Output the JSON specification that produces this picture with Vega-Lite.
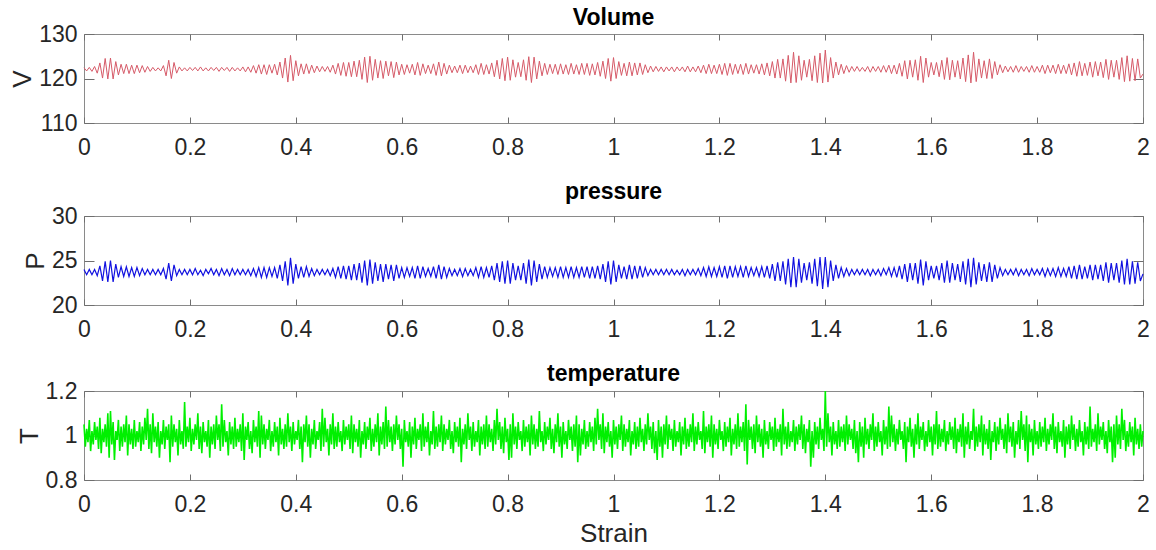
{
"$schema":"https://vega.github.io/schema/vega-lite/v6.json",
"padding":{"left":9,"top":6,"right":5,"bottom":0},
"config":{
"font":"Liberation Sans",
"view":{"stroke":"#8a8a8a","strokeWidth":1},
"axis":{"domain":false,"grid":false,"tickColor":"#6e6e6e","labelFont":"Liberation Sans","labelFontSize":23,"labelColor":"#262626","titleFont":"Liberation Sans","titleFontSize":26,"titleFontWeight":"normal","titleColor":"#262626","format":".6~g"},
"axisX":{"tickSize":-6,"labelPadding":19,"tickCount":10,"labelFlush":false,"titlePadding":4},
"axisY":{"tickSize":-10,"labelPadding":17,"tickCount":2,"titlePadding":3},
"title":{"font":"Liberation Sans","fontSize":23,"fontWeight":"bold","color":"#000000","anchor":"middle","baseline":"alphabetic","offset":-1},
"concat":{"spacing":20}
},
"datasets":{
"vp":[
{"s":0,"v":122.4,"p":24.0},{"s":0.005,"v":121.7,"p":23.4},{"s":0.01,"v":122.5,"p":24.0},{"s":0.015,"v":121.6,"p":23.4},{"s":0.02,"v":122.7,"p":24.0},{"s":0.025,"v":121.2,"p":23.3},{"s":0.03,"v":123.5,"p":24.4},{"s":0.035,"v":120.1,"p":22.7},{"s":0.04,"v":124.5,"p":24.9},{"s":0.045,"v":119.9,"p":22.6},
{"s":0.05,"v":124.6,"p":25.0},{"s":0.055,"v":119.9,"p":22.6},{"s":0.06,"v":123.8,"p":24.6},{"s":0.065,"v":120.8,"p":23.1},{"s":0.07,"v":123.2,"p":24.3},{"s":0.075,"v":121.1,"p":23.2},{"s":0.08,"v":123.2,"p":24.3},{"s":0.085,"v":121.1,"p":23.2},{"s":0.09,"v":123.0,"p":24.2},{"s":0.095,"v":121.1,"p":23.2},
{"s":0.1,"v":123.0,"p":24.2},{"s":0.105,"v":121.3,"p":23.3},{"s":0.11,"v":122.9,"p":24.1},{"s":0.115,"v":121.4,"p":23.4},{"s":0.12,"v":122.7,"p":24.0},{"s":0.125,"v":121.6,"p":23.4},{"s":0.13,"v":122.5,"p":24.0},{"s":0.135,"v":121.7,"p":23.4},{"s":0.14,"v":122.4,"p":24.0},{"s":0.145,"v":121.7,"p":23.4},
{"s":0.15,"v":122.9,"p":24.1},{"s":0.155,"v":120.6,"p":22.9},{"s":0.16,"v":124.1,"p":24.7},{"s":0.165,"v":120.0,"p":22.7},{"s":0.17,"v":123.6,"p":24.5},{"s":0.175,"v":121.2,"p":23.3},{"s":0.18,"v":122.6,"p":24.0},{"s":0.185,"v":121.7,"p":23.4},{"s":0.19,"v":122.4,"p":24.0},{"s":0.195,"v":121.7,"p":23.4},
{"s":0.2,"v":122.5,"p":24.0},{"s":0.205,"v":121.8,"p":23.4},{"s":0.21,"v":122.5,"p":24.1},{"s":0.215,"v":121.7,"p":23.4},{"s":0.22,"v":122.6,"p":23.9},{"s":0.225,"v":121.7,"p":23.3},{"s":0.23,"v":122.4,"p":24.0},{"s":0.235,"v":121.7,"p":23.5},{"s":0.24,"v":122.5,"p":24.1},{"s":0.245,"v":121.8,"p":23.4},
{"s":0.25,"v":122.5,"p":24.0},{"s":0.255,"v":121.6,"p":23.3},{"s":0.26,"v":122.5,"p":24.1},{"s":0.265,"v":121.8,"p":23.4},{"s":0.27,"v":122.5,"p":24.0},{"s":0.275,"v":121.6,"p":23.3},{"s":0.28,"v":122.5,"p":24.1},{"s":0.285,"v":121.7,"p":23.4},{"s":0.29,"v":122.4,"p":24.0},{"s":0.295,"v":121.7,"p":23.4},
{"s":0.3,"v":122.6,"p":24.0},{"s":0.305,"v":121.5,"p":23.4},{"s":0.31,"v":122.6,"p":24.0},{"s":0.315,"v":121.4,"p":23.3},{"s":0.32,"v":122.9,"p":24.1},{"s":0.325,"v":121.2,"p":23.2},{"s":0.33,"v":123.1,"p":24.2},{"s":0.335,"v":121.0,"p":23.1},{"s":0.34,"v":123.1,"p":24.2},{"s":0.345,"v":120.9,"p":23.1},
{"s":0.35,"v":123.1,"p":24.2},{"s":0.355,"v":121.2,"p":23.2},{"s":0.36,"v":123.2,"p":24.2},{"s":0.365,"v":120.8,"p":23.0},{"s":0.37,"v":123.7,"p":24.5},{"s":0.375,"v":120.1,"p":22.7},{"s":0.38,"v":124.6,"p":24.9},{"s":0.385,"v":119.2,"p":22.2},{"s":0.39,"v":125.2,"p":25.3},{"s":0.395,"v":119.5,"p":22.4},
{"s":0.4,"v":124.0,"p":24.6},{"s":0.405,"v":120.6,"p":23.0},{"s":0.41,"v":123.3,"p":24.3},{"s":0.415,"v":121.0,"p":23.1},{"s":0.42,"v":123.3,"p":24.3},{"s":0.425,"v":121.1,"p":23.2},{"s":0.43,"v":123.0,"p":24.1},{"s":0.435,"v":121.3,"p":23.3},{"s":0.44,"v":122.8,"p":24.0},{"s":0.445,"v":121.5,"p":23.4},
{"s":0.45,"v":122.7,"p":24.0},{"s":0.455,"v":121.6,"p":23.4},{"s":0.46,"v":122.7,"p":24.0},{"s":0.465,"v":121.4,"p":23.3},{"s":0.47,"v":123.0,"p":24.1},{"s":0.475,"v":121.0,"p":23.1},{"s":0.48,"v":123.4,"p":24.3},{"s":0.485,"v":120.7,"p":23.0},{"s":0.49,"v":123.6,"p":24.4},{"s":0.495,"v":120.5,"p":22.9},
{"s":0.5,"v":123.6,"p":24.4},{"s":0.505,"v":120.4,"p":22.8},{"s":0.51,"v":123.9,"p":24.6},{"s":0.515,"v":120.4,"p":22.8},{"s":0.52,"v":124.1,"p":24.7},{"s":0.525,"v":119.8,"p":22.5},{"s":0.53,"v":124.8,"p":25.0},{"s":0.535,"v":119.1,"p":22.2},{"s":0.54,"v":125.0,"p":25.1},{"s":0.545,"v":119.6,"p":22.4},
{"s":0.55,"v":124.3,"p":24.8},{"s":0.555,"v":120.1,"p":22.7},{"s":0.56,"v":124.0,"p":24.6},{"s":0.565,"v":120.0,"p":22.6},{"s":0.57,"v":123.9,"p":24.6},{"s":0.575,"v":120.6,"p":22.9},{"s":0.58,"v":123.8,"p":24.5},{"s":0.585,"v":120.2,"p":22.7},{"s":0.59,"v":123.7,"p":24.5},{"s":0.595,"v":120.8,"p":23.0},
{"s":0.6,"v":123.2,"p":24.2},{"s":0.605,"v":120.9,"p":23.1},{"s":0.61,"v":123.1,"p":24.2},{"s":0.615,"v":121.2,"p":23.2},{"s":0.62,"v":123.2,"p":24.2},{"s":0.625,"v":120.8,"p":23.0},{"s":0.63,"v":123.6,"p":24.4},{"s":0.635,"v":120.7,"p":23.0},{"s":0.64,"v":123.3,"p":24.3},{"s":0.645,"v":121.1,"p":23.2},
{"s":0.65,"v":123.0,"p":24.1},{"s":0.655,"v":121.1,"p":23.2},{"s":0.66,"v":123.3,"p":24.3},{"s":0.665,"v":120.7,"p":23.0},{"s":0.67,"v":123.7,"p":24.5},{"s":0.675,"v":120.6,"p":22.9},{"s":0.68,"v":123.4,"p":24.3},{"s":0.685,"v":121.0,"p":23.1},{"s":0.69,"v":123.0,"p":24.1},{"s":0.695,"v":121.3,"p":23.3},
{"s":0.7,"v":122.8,"p":24.0},{"s":0.705,"v":121.3,"p":23.3},{"s":0.71,"v":123.0,"p":24.1},{"s":0.715,"v":121.1,"p":23.2},{"s":0.72,"v":123.0,"p":24.1},{"s":0.725,"v":121.3,"p":23.3},{"s":0.73,"v":122.8,"p":24.0},{"s":0.735,"v":121.3,"p":23.3},{"s":0.74,"v":123.1,"p":24.2},{"s":0.745,"v":120.9,"p":23.1},
{"s":0.75,"v":123.4,"p":24.3},{"s":0.755,"v":120.9,"p":23.1},{"s":0.76,"v":123.1,"p":24.2},{"s":0.765,"v":121.0,"p":23.1},{"s":0.77,"v":123.5,"p":24.4},{"s":0.775,"v":120.4,"p":22.8},{"s":0.78,"v":124.1,"p":24.7},{"s":0.785,"v":119.9,"p":22.6},{"s":0.79,"v":124.5,"p":24.9},{"s":0.795,"v":119.5,"p":22.4},
{"s":0.8,"v":124.8,"p":25.0},{"s":0.805,"v":119.6,"p":22.4},{"s":0.81,"v":124.2,"p":24.7},{"s":0.815,"v":120.3,"p":22.8},{"s":0.82,"v":123.6,"p":24.4},{"s":0.825,"v":120.4,"p":22.8},{"s":0.83,"v":124.2,"p":24.7},{"s":0.835,"v":119.6,"p":22.4},{"s":0.84,"v":124.9,"p":25.1},{"s":0.845,"v":119.1,"p":22.2},
{"s":0.85,"v":124.8,"p":25.0},{"s":0.855,"v":119.9,"p":22.6},{"s":0.86,"v":123.9,"p":24.6},{"s":0.865,"v":120.6,"p":22.9},{"s":0.87,"v":123.4,"p":24.3},{"s":0.875,"v":120.9,"p":23.1},{"s":0.88,"v":123.2,"p":24.2},{"s":0.885,"v":121.1,"p":23.2},{"s":0.89,"v":123.2,"p":24.2},{"s":0.895,"v":120.9,"p":23.1},
{"s":0.9,"v":123.3,"p":24.3},{"s":0.905,"v":121.0,"p":23.1},{"s":0.91,"v":123.1,"p":24.2},{"s":0.915,"v":120.9,"p":23.1},{"s":0.92,"v":123.4,"p":24.3},{"s":0.925,"v":121.0,"p":23.1},{"s":0.93,"v":123.1,"p":24.2},{"s":0.935,"v":120.9,"p":23.1},{"s":0.94,"v":123.4,"p":24.3},{"s":0.945,"v":120.9,"p":23.1},
{"s":0.95,"v":123.4,"p":24.3},{"s":0.955,"v":120.7,"p":23.0},{"s":0.96,"v":123.3,"p":24.3},{"s":0.965,"v":120.8,"p":23.0},{"s":0.97,"v":123.6,"p":24.4},{"s":0.975,"v":120.5,"p":22.9},{"s":0.98,"v":123.9,"p":24.6},{"s":0.985,"v":120.0,"p":22.6},{"s":0.99,"v":124.5,"p":24.9},{"s":0.995,"v":119.4,"p":22.3},
{"s":1,"v":124.7,"p":25.0},{"s":1.005,"v":120.0,"p":22.6},{"s":1.01,"v":123.8,"p":24.5},{"s":1.015,"v":120.7,"p":23.0},{"s":1.02,"v":123.4,"p":24.3},{"s":1.025,"v":120.6,"p":22.9},{"s":1.03,"v":123.7,"p":24.5},{"s":1.035,"v":120.6,"p":22.9},{"s":1.04,"v":123.5,"p":24.4},{"s":1.045,"v":120.8,"p":23.0},
{"s":1.05,"v":123.5,"p":24.4},{"s":1.055,"v":120.9,"p":23.1},{"s":1.06,"v":123.1,"p":24.2},{"s":1.065,"v":121.3,"p":23.3},{"s":1.07,"v":122.8,"p":24.0},{"s":1.075,"v":121.5,"p":23.4},{"s":1.08,"v":122.7,"p":24.0},{"s":1.085,"v":121.6,"p":23.4},{"s":1.09,"v":122.6,"p":24.0},{"s":1.095,"v":121.5,"p":23.4},
{"s":1.1,"v":122.6,"p":24.0},{"s":1.105,"v":121.7,"p":23.4},{"s":1.11,"v":122.6,"p":24.0},{"s":1.115,"v":121.5,"p":23.4},{"s":1.12,"v":122.6,"p":23.9},{"s":1.125,"v":121.7,"p":23.4},{"s":1.13,"v":122.6,"p":24.0},{"s":1.135,"v":121.5,"p":23.3},{"s":1.14,"v":122.8,"p":24.0},{"s":1.145,"v":121.5,"p":23.4},
{"s":1.15,"v":122.6,"p":24.0},{"s":1.155,"v":121.5,"p":23.4},{"s":1.16,"v":122.8,"p":24.1},{"s":1.165,"v":121.3,"p":23.3},{"s":1.17,"v":123.0,"p":24.2},{"s":1.175,"v":121.1,"p":23.2},{"s":1.18,"v":123.2,"p":24.3},{"s":1.185,"v":121.1,"p":23.2},{"s":1.19,"v":123.0,"p":24.2},{"s":1.195,"v":121.1,"p":23.2},
{"s":1.2,"v":123.2,"p":24.3},{"s":1.205,"v":120.9,"p":23.1},{"s":1.21,"v":123.4,"p":24.4},{"s":1.215,"v":120.7,"p":23.0},{"s":1.22,"v":123.4,"p":24.4},{"s":1.225,"v":120.9,"p":23.1},{"s":1.23,"v":123.2,"p":24.3},{"s":1.235,"v":121.1,"p":23.2},{"s":1.24,"v":123.2,"p":24.3},{"s":1.245,"v":120.9,"p":23.1},
{"s":1.25,"v":123.4,"p":24.4},{"s":1.255,"v":121.0,"p":23.2},{"s":1.26,"v":123.1,"p":24.2},{"s":1.265,"v":121.2,"p":23.3},{"s":1.27,"v":123.1,"p":24.2},{"s":1.275,"v":121.0,"p":23.2},{"s":1.28,"v":123.3,"p":24.3},{"s":1.285,"v":120.8,"p":23.1},{"s":1.29,"v":123.5,"p":24.4},{"s":1.295,"v":120.6,"p":23.0},
{"s":1.3,"v":123.8,"p":24.6},{"s":1.305,"v":120.1,"p":22.7},{"s":1.31,"v":124.3,"p":24.8},{"s":1.315,"v":120.1,"p":22.7},{"s":1.32,"v":124.4,"p":24.9},{"s":1.325,"v":119.4,"p":22.3},{"s":1.33,"v":125.2,"p":25.2},{"s":1.335,"v":119.0,"p":22.0},{"s":1.34,"v":125.9,"p":25.4},{"s":1.345,"v":119.1,"p":22.0},
{"s":1.35,"v":125.1,"p":25.2},{"s":1.355,"v":119.6,"p":22.5},{"s":1.36,"v":124.1,"p":24.7},{"s":1.365,"v":120.3,"p":22.8},{"s":1.37,"v":124.3,"p":24.8},{"s":1.375,"v":119.5,"p":22.4},{"s":1.38,"v":125.1,"p":25.2},{"s":1.385,"v":119.1,"p":22.1},{"s":1.39,"v":125.7,"p":25.4},{"s":1.395,"v":119.0,"p":21.8},
{"s":1.4,"v":126.4,"p":25.4},{"s":1.405,"v":119.2,"p":22.0},{"s":1.41,"v":124.7,"p":25.0},{"s":1.415,"v":120.1,"p":22.7},{"s":1.42,"v":123.7,"p":24.5},{"s":1.425,"v":120.8,"p":23.0},{"s":1.43,"v":123.2,"p":24.2},{"s":1.435,"v":121.1,"p":23.2},{"s":1.44,"v":122.9,"p":24.1},{"s":1.445,"v":121.4,"p":23.3},
{"s":1.45,"v":122.7,"p":24.0},{"s":1.455,"v":121.6,"p":23.4},{"s":1.46,"v":122.7,"p":24.0},{"s":1.465,"v":121.6,"p":23.4},{"s":1.47,"v":122.5,"p":24.0},{"s":1.475,"v":121.6,"p":23.4},{"s":1.48,"v":122.7,"p":24.0},{"s":1.485,"v":121.4,"p":23.3},{"s":1.49,"v":122.7,"p":24.0},{"s":1.495,"v":121.6,"p":23.4},
{"s":1.5,"v":122.7,"p":24.0},{"s":1.505,"v":121.4,"p":23.3},{"s":1.51,"v":122.9,"p":24.1},{"s":1.515,"v":121.4,"p":23.4},{"s":1.52,"v":123.0,"p":24.2},{"s":1.525,"v":121.1,"p":23.2},{"s":1.53,"v":123.0,"p":24.2},{"s":1.535,"v":121.0,"p":23.1},{"s":1.54,"v":123.4,"p":24.4},{"s":1.545,"v":120.5,"p":22.9},
{"s":1.55,"v":124.0,"p":24.6},{"s":1.555,"v":119.9,"p":22.6},{"s":1.56,"v":124.1,"p":24.7},{"s":1.565,"v":120.3,"p":22.8},{"s":1.57,"v":124.2,"p":24.7},{"s":1.575,"v":119.6,"p":22.4},{"s":1.58,"v":125.0,"p":25.1},{"s":1.585,"v":119.1,"p":22.2},{"s":1.59,"v":124.6,"p":24.9},{"s":1.595,"v":120.3,"p":22.8},
{"s":1.6,"v":123.6,"p":24.4},{"s":1.605,"v":120.8,"p":23.0},{"s":1.61,"v":123.6,"p":24.4},{"s":1.615,"v":120.4,"p":22.8},{"s":1.62,"v":124.1,"p":24.7},{"s":1.625,"v":119.8,"p":22.5},{"s":1.63,"v":124.7,"p":25.0},{"s":1.635,"v":119.7,"p":22.5},{"s":1.64,"v":124.1,"p":24.7},{"s":1.645,"v":120.3,"p":22.8},
{"s":1.65,"v":124.0,"p":24.6},{"s":1.655,"v":119.9,"p":22.6},{"s":1.66,"v":124.6,"p":24.9},{"s":1.665,"v":119.3,"p":22.3},{"s":1.67,"v":125.3,"p":25.2},{"s":1.675,"v":119.0,"p":22.0},{"s":1.68,"v":125.9,"p":25.3},{"s":1.685,"v":119.3,"p":22.3},{"s":1.69,"v":124.4,"p":24.8},{"s":1.695,"v":120.1,"p":22.7},
{"s":1.7,"v":124.0,"p":24.6},{"s":1.705,"v":120.0,"p":22.6},{"s":1.71,"v":124.4,"p":24.8},{"s":1.715,"v":120.0,"p":22.6},{"s":1.72,"v":123.8,"p":24.5},{"s":1.725,"v":120.8,"p":23.0},{"s":1.73,"v":123.1,"p":24.2},{"s":1.735,"v":121.3,"p":23.3},{"s":1.74,"v":122.8,"p":24.0},{"s":1.745,"v":121.5,"p":23.4},
{"s":1.75,"v":122.7,"p":24.0},{"s":1.755,"v":121.4,"p":23.4},{"s":1.76,"v":122.9,"p":24.1},{"s":1.765,"v":121.4,"p":23.3},{"s":1.77,"v":122.7,"p":24.0},{"s":1.775,"v":121.6,"p":23.4},{"s":1.78,"v":122.7,"p":24.0},{"s":1.785,"v":121.4,"p":23.3},{"s":1.79,"v":122.9,"p":24.1},{"s":1.795,"v":121.4,"p":23.4},
{"s":1.8,"v":122.7,"p":24.0},{"s":1.805,"v":121.4,"p":23.4},{"s":1.81,"v":123.0,"p":24.1},{"s":1.815,"v":121.1,"p":23.2},{"s":1.82,"v":123.0,"p":24.1},{"s":1.825,"v":121.3,"p":23.3},{"s":1.83,"v":123.0,"p":24.1},{"s":1.835,"v":121.1,"p":23.2},{"s":1.84,"v":123.2,"p":24.2},{"s":1.845,"v":121.1,"p":23.2},
{"s":1.85,"v":123.0,"p":24.1},{"s":1.855,"v":121.1,"p":23.2},{"s":1.86,"v":123.3,"p":24.3},{"s":1.865,"v":120.8,"p":23.0},{"s":1.87,"v":123.5,"p":24.4},{"s":1.875,"v":120.5,"p":22.9},{"s":1.88,"v":123.8,"p":24.5},{"s":1.885,"v":120.6,"p":22.9},{"s":1.89,"v":123.4,"p":24.3},{"s":1.895,"v":120.7,"p":23.0},
{"s":1.9,"v":123.7,"p":24.5},{"s":1.905,"v":120.3,"p":22.8},{"s":1.91,"v":123.8,"p":24.5},{"s":1.915,"v":120.6,"p":22.9},{"s":1.92,"v":123.7,"p":24.5},{"s":1.925,"v":120.2,"p":22.7},{"s":1.93,"v":124.3,"p":24.8},{"s":1.935,"v":119.8,"p":22.5},{"s":1.94,"v":124.1,"p":24.7},{"s":1.945,"v":120.3,"p":22.8},
{"s":1.95,"v":124.1,"p":24.7},{"s":1.955,"v":119.8,"p":22.5},{"s":1.96,"v":124.7,"p":25.0},{"s":1.965,"v":119.3,"p":22.3},{"s":1.97,"v":125.1,"p":25.2},{"s":1.975,"v":119.4,"p":22.3},{"s":1.98,"v":124.5,"p":24.9},{"s":1.985,"v":119.5,"p":22.4},{"s":1.99,"v":124.4,"p":24.8},{"s":1.995,"v":120.1,"p":22.7},
{"s":2,"v":121.0,"p":23.5}
],
"temp":[
{"s":0,"t":1.05},{"s":0.0025,"t":0.95},{"s":0.005,"t":1.03},{"s":0.0075,"t":0.97},{"s":0.01,"t":1.07},{"s":0.0125,"t":0.93},{"s":0.015,"t":1.02},{"s":0.0175,"t":0.96},
{"s":0.02,"t":1.06},{"s":0.0225,"t":0.98},{"s":0.025,"t":1.04},{"s":0.0275,"t":0.94},{"s":0.03,"t":1.08},{"s":0.0325,"t":0.92},{"s":0.035,"t":1.03},{"s":0.0375,"t":0.97},
{"s":0.04,"t":1.05},{"s":0.0425,"t":0.95},{"s":0.045,"t":1.10},{"s":0.0475,"t":0.90},{"s":0.05,"t":1.11},{"s":0.0525,"t":0.96},{"s":0.055,"t":1.06},{"s":0.0575,"t":0.89},
{"s":0.06,"t":1.02},{"s":0.0625,"t":0.98},{"s":0.065,"t":1.07},{"s":0.0675,"t":0.93},{"s":0.07,"t":1.04},{"s":0.0725,"t":0.95},{"s":0.075,"t":1.05},{"s":0.0775,"t":0.97},
{"s":0.08,"t":1.09},{"s":0.0825,"t":0.91},{"s":0.085,"t":1.05},{"s":0.0875,"t":0.96},{"s":0.09,"t":1.03},{"s":0.0925,"t":0.94},{"s":0.095,"t":1.07},{"s":0.0975,"t":0.95},
{"s":0.1,"t":1.02},{"s":0.1025,"t":0.97},{"s":0.105,"t":1.06},{"s":0.1075,"t":0.93},{"s":0.11,"t":1.04},{"s":0.1125,"t":0.96},{"s":0.115,"t":1.08},{"s":0.1175,"t":0.98},
{"s":0.12,"t":1.12},{"s":0.1225,"t":0.94},{"s":0.125,"t":1.05},{"s":0.1275,"t":0.92},{"s":0.13,"t":1.10},{"s":0.1325,"t":0.97},{"s":0.135,"t":1.04},{"s":0.1375,"t":0.95},
{"s":0.14,"t":1.06},{"s":0.1425,"t":0.90},{"s":0.145,"t":1.02},{"s":0.1475,"t":0.96},{"s":0.15,"t":1.07},{"s":0.1525,"t":0.94},{"s":0.155,"t":1.04},{"s":0.1575,"t":0.98},
{"s":0.16,"t":1.05},{"s":0.1625,"t":0.88},{"s":0.165,"t":1.09},{"s":0.1675,"t":0.95},{"s":0.17,"t":1.05},{"s":0.1725,"t":0.97},{"s":0.175,"t":1.03},{"s":0.1775,"t":0.91},
{"s":0.18,"t":1.07},{"s":0.1825,"t":0.96},{"s":0.185,"t":1.02},{"s":0.1875,"t":0.94},{"s":0.19,"t":1.15},{"s":0.1925,"t":0.95},{"s":0.195,"t":1.04},{"s":0.1975,"t":0.97},
{"s":0.2,"t":1.08},{"s":0.2025,"t":0.93},{"s":0.205,"t":1.03},{"s":0.2075,"t":0.96},{"s":0.21,"t":1.05},{"s":0.2125,"t":0.98},{"s":0.215,"t":1.10},{"s":0.2175,"t":0.94},
{"s":0.22,"t":1.04},{"s":0.2225,"t":0.92},{"s":0.225,"t":1.06},{"s":0.2275,"t":0.97},{"s":0.23,"t":1.02},{"s":0.2325,"t":0.95},{"s":0.235,"t":1.07},{"s":0.2375,"t":0.90},
{"s":0.24,"t":1.04},{"s":0.2425,"t":0.96},{"s":0.245,"t":1.05},{"s":0.2475,"t":0.94},{"s":0.25,"t":1.09},{"s":0.2525,"t":0.98},{"s":0.255,"t":1.05},{"s":0.2575,"t":0.93},
{"s":0.26,"t":1.14},{"s":0.2625,"t":0.95},{"s":0.265,"t":1.07},{"s":0.2675,"t":0.97},{"s":0.27,"t":1.02},{"s":0.2725,"t":0.91},{"s":0.275,"t":1.06},{"s":0.2775,"t":0.96},
{"s":0.28,"t":1.04},{"s":0.2825,"t":0.94},{"s":0.285,"t":1.08},{"s":0.2875,"t":0.95},{"s":0.29,"t":1.03},{"s":0.2925,"t":0.97},{"s":0.295,"t":1.05},{"s":0.2975,"t":0.93},
{"s":0.3,"t":1.10},{"s":0.3025,"t":0.89},{"s":0.305,"t":1.04},{"s":0.3075,"t":0.98},{"s":0.31,"t":1.06},{"s":0.3125,"t":0.94},{"s":0.315,"t":1.02},{"s":0.3175,"t":0.92},
{"s":0.32,"t":1.07},{"s":0.3225,"t":0.97},{"s":0.325,"t":1.04},{"s":0.3275,"t":0.95},{"s":0.33,"t":1.11},{"s":0.3325,"t":0.90},{"s":0.335,"t":1.09},{"s":0.3375,"t":0.96},
{"s":0.34,"t":1.05},{"s":0.3425,"t":0.94},{"s":0.345,"t":1.03},{"s":0.3475,"t":0.98},{"s":0.35,"t":1.07},{"s":0.3525,"t":0.93},{"s":0.355,"t":1.02},{"s":0.3575,"t":0.95},
{"s":0.36,"t":1.06},{"s":0.3625,"t":0.97},{"s":0.365,"t":1.04},{"s":0.3675,"t":0.91},{"s":0.37,"t":1.08},{"s":0.3725,"t":0.96},{"s":0.375,"t":1.03},{"s":0.3775,"t":0.94},
{"s":0.38,"t":1.05},{"s":0.3825,"t":0.95},{"s":0.385,"t":1.10},{"s":0.3875,"t":0.97},{"s":0.39,"t":1.04},{"s":0.3925,"t":0.93},{"s":0.395,"t":1.06},{"s":0.3975,"t":0.96},
{"s":0.4,"t":1.02},{"s":0.4025,"t":0.98},{"s":0.405,"t":1.07},{"s":0.4075,"t":0.94},{"s":0.41,"t":1.04},{"s":0.4125,"t":0.88},{"s":0.415,"t":1.05},{"s":0.4175,"t":0.97},
{"s":0.42,"t":1.09},{"s":0.4225,"t":0.95},{"s":0.425,"t":1.05},{"s":0.4275,"t":0.90},{"s":0.43,"t":1.03},{"s":0.4325,"t":0.96},{"s":0.435,"t":1.07},{"s":0.4375,"t":0.94},
{"s":0.44,"t":1.02},{"s":0.4425,"t":0.98},{"s":0.445,"t":1.06},{"s":0.4475,"t":0.93},{"s":0.45,"t":1.12},{"s":0.4525,"t":0.95},{"s":0.455,"t":1.08},{"s":0.4575,"t":0.97},
{"s":0.46,"t":1.03},{"s":0.4625,"t":0.91},{"s":0.465,"t":1.05},{"s":0.4675,"t":0.96},{"s":0.47,"t":1.10},{"s":0.4725,"t":0.94},{"s":0.475,"t":1.04},{"s":0.4775,"t":0.95},
{"s":0.48,"t":1.06},{"s":0.4825,"t":0.97},{"s":0.485,"t":1.02},{"s":0.4875,"t":0.93},{"s":0.49,"t":1.07},{"s":0.4925,"t":0.96},{"s":0.495,"t":1.04},{"s":0.4975,"t":0.98},
{"s":0.5,"t":1.05},{"s":0.5025,"t":0.94},{"s":0.505,"t":1.09},{"s":0.5075,"t":0.92},{"s":0.51,"t":1.05},{"s":0.5125,"t":0.97},{"s":0.515,"t":1.03},{"s":0.5175,"t":0.95},
{"s":0.52,"t":1.07},{"s":0.5225,"t":0.90},{"s":0.525,"t":1.02},{"s":0.5275,"t":0.96},{"s":0.53,"t":1.06},{"s":0.5325,"t":0.94},{"s":0.535,"t":1.04},{"s":0.5375,"t":0.98},
{"s":0.54,"t":1.08},{"s":0.5425,"t":0.93},{"s":0.545,"t":1.03},{"s":0.5475,"t":0.95},{"s":0.55,"t":1.05},{"s":0.5525,"t":0.97},{"s":0.555,"t":1.10},{"s":0.5575,"t":0.91},
{"s":0.56,"t":1.04},{"s":0.5625,"t":0.96},{"s":0.565,"t":1.06},{"s":0.5675,"t":0.94},{"s":0.57,"t":1.13},{"s":0.5725,"t":0.95},{"s":0.575,"t":1.07},{"s":0.5775,"t":0.97},
{"s":0.58,"t":1.04},{"s":0.5825,"t":0.93},{"s":0.585,"t":1.05},{"s":0.5875,"t":0.96},{"s":0.59,"t":1.09},{"s":0.5925,"t":0.98},{"s":0.595,"t":1.05},{"s":0.5975,"t":0.94},
{"s":0.6,"t":1.03},{"s":0.6025,"t":0.86},{"s":0.605,"t":1.07},{"s":0.6075,"t":0.97},{"s":0.61,"t":1.02},{"s":0.6125,"t":0.95},{"s":0.615,"t":1.06},{"s":0.6175,"t":0.90},
{"s":0.62,"t":1.04},{"s":0.6225,"t":0.96},{"s":0.625,"t":1.08},{"s":0.6275,"t":0.94},{"s":0.63,"t":1.03},{"s":0.6325,"t":0.98},{"s":0.635,"t":1.05},{"s":0.6375,"t":0.93},
{"s":0.64,"t":1.10},{"s":0.6425,"t":0.95},{"s":0.645,"t":1.04},{"s":0.6475,"t":0.97},{"s":0.65,"t":1.06},{"s":0.6525,"t":0.91},{"s":0.655,"t":1.02},{"s":0.6575,"t":0.96},
{"s":0.66,"t":1.11},{"s":0.6625,"t":0.94},{"s":0.665,"t":1.04},{"s":0.6675,"t":0.95},{"s":0.67,"t":1.05},{"s":0.6725,"t":0.97},{"s":0.675,"t":1.09},{"s":0.6775,"t":0.93},
{"s":0.68,"t":1.05},{"s":0.6825,"t":0.96},{"s":0.685,"t":1.03},{"s":0.6875,"t":0.98},{"s":0.69,"t":1.07},{"s":0.6925,"t":0.94},{"s":0.695,"t":1.02},{"s":0.6975,"t":0.92},
{"s":0.7,"t":1.06},{"s":0.7025,"t":0.97},{"s":0.705,"t":1.04},{"s":0.7075,"t":0.95},{"s":0.71,"t":1.08},{"s":0.7125,"t":0.88},{"s":0.715,"t":1.03},{"s":0.7175,"t":0.96},
{"s":0.72,"t":1.05},{"s":0.7225,"t":0.94},{"s":0.725,"t":1.10},{"s":0.7275,"t":0.98},{"s":0.73,"t":1.04},{"s":0.7325,"t":0.93},{"s":0.735,"t":1.06},{"s":0.7375,"t":0.95},
{"s":0.74,"t":1.02},{"s":0.7425,"t":0.97},{"s":0.745,"t":1.07},{"s":0.7475,"t":0.91},{"s":0.75,"t":1.04},{"s":0.7525,"t":0.96},{"s":0.755,"t":1.05},{"s":0.7575,"t":0.94},
{"s":0.76,"t":1.09},{"s":0.7625,"t":0.95},{"s":0.765,"t":1.05},{"s":0.7675,"t":0.97},{"s":0.77,"t":1.03},{"s":0.7725,"t":0.93},{"s":0.775,"t":1.07},{"s":0.7775,"t":0.96},
{"s":0.78,"t":1.12},{"s":0.7825,"t":0.98},{"s":0.785,"t":1.06},{"s":0.7875,"t":0.94},{"s":0.79,"t":1.04},{"s":0.7925,"t":0.92},{"s":0.795,"t":1.08},{"s":0.7975,"t":0.97},
{"s":0.8,"t":1.03},{"s":0.8025,"t":0.89},{"s":0.805,"t":1.05},{"s":0.8075,"t":0.90},{"s":0.81,"t":1.10},{"s":0.8125,"t":0.96},{"s":0.815,"t":1.04},{"s":0.8175,"t":0.94},
{"s":0.82,"t":1.06},{"s":0.8225,"t":0.98},{"s":0.825,"t":1.02},{"s":0.8275,"t":0.93},{"s":0.83,"t":1.07},{"s":0.8325,"t":0.95},{"s":0.835,"t":1.04},{"s":0.8375,"t":0.97},
{"s":0.84,"t":1.05},{"s":0.8425,"t":0.91},{"s":0.845,"t":1.09},{"s":0.8475,"t":0.96},{"s":0.85,"t":1.05},{"s":0.8525,"t":0.94},{"s":0.855,"t":1.03},{"s":0.8575,"t":0.95},
{"s":0.86,"t":1.11},{"s":0.8625,"t":0.97},{"s":0.865,"t":1.02},{"s":0.8675,"t":0.93},{"s":0.87,"t":1.06},{"s":0.8725,"t":0.96},{"s":0.875,"t":1.04},{"s":0.8775,"t":0.98},
{"s":0.88,"t":1.08},{"s":0.8825,"t":0.94},{"s":0.885,"t":1.03},{"s":0.8875,"t":0.92},{"s":0.89,"t":1.05},{"s":0.8925,"t":0.97},{"s":0.895,"t":1.10},{"s":0.8975,"t":0.95},
{"s":0.9,"t":1.04},{"s":0.9025,"t":0.90},{"s":0.905,"t":1.06},{"s":0.9075,"t":0.96},{"s":0.91,"t":1.02},{"s":0.9125,"t":0.94},{"s":0.915,"t":1.07},{"s":0.9175,"t":0.98},
{"s":0.92,"t":1.04},{"s":0.9225,"t":0.93},{"s":0.925,"t":1.05},{"s":0.9275,"t":0.95},{"s":0.93,"t":1.09},{"s":0.9325,"t":0.88},{"s":0.935,"t":1.05},{"s":0.9375,"t":0.91},
{"s":0.94,"t":1.03},{"s":0.9425,"t":0.96},{"s":0.945,"t":1.07},{"s":0.9475,"t":0.94},{"s":0.95,"t":1.02},{"s":0.9525,"t":0.95},{"s":0.955,"t":1.06},{"s":0.9575,"t":0.97},
{"s":0.96,"t":1.04},{"s":0.9625,"t":0.93},{"s":0.965,"t":1.08},{"s":0.9675,"t":0.96},{"s":0.97,"t":1.12},{"s":0.9725,"t":0.98},{"s":0.975,"t":1.05},{"s":0.9775,"t":0.94},
{"s":0.98,"t":1.10},{"s":0.9825,"t":0.92},{"s":0.985,"t":1.04},{"s":0.9875,"t":0.97},{"s":0.99,"t":1.06},{"s":0.9925,"t":0.95},{"s":0.995,"t":1.02},{"s":0.9975,"t":0.90},
{"s":1,"t":1.07},{"s":1.0025,"t":0.96},{"s":1.005,"t":1.04},{"s":1.0075,"t":0.94},{"s":1.01,"t":1.05},{"s":1.0125,"t":0.98},{"s":1.015,"t":1.09},{"s":1.0175,"t":0.93},
{"s":1.02,"t":1.05},{"s":1.0225,"t":0.95},{"s":1.025,"t":1.03},{"s":1.0275,"t":0.97},{"s":1.03,"t":1.07},{"s":1.0325,"t":0.91},{"s":1.035,"t":1.02},{"s":1.0375,"t":0.96},
{"s":1.04,"t":1.06},{"s":1.0425,"t":0.94},{"s":1.045,"t":1.04},{"s":1.0475,"t":0.95},{"s":1.05,"t":1.08},{"s":1.0525,"t":0.97},{"s":1.055,"t":1.03},{"s":1.0575,"t":0.93},
{"s":1.06,"t":1.05},{"s":1.0625,"t":0.96},{"s":1.065,"t":1.10},{"s":1.0675,"t":0.98},{"s":1.07,"t":1.04},{"s":1.0725,"t":0.94},{"s":1.075,"t":1.06},{"s":1.0775,"t":0.92},
{"s":1.08,"t":1.02},{"s":1.0825,"t":0.89},{"s":1.085,"t":1.07},{"s":1.0875,"t":0.95},{"s":1.09,"t":1.04},{"s":1.0925,"t":0.90},{"s":1.095,"t":1.05},{"s":1.0975,"t":0.96},
{"s":1.1,"t":1.09},{"s":1.1025,"t":0.94},{"s":1.105,"t":1.05},{"s":1.1075,"t":0.98},{"s":1.11,"t":1.03},{"s":1.1125,"t":0.93},{"s":1.115,"t":1.07},{"s":1.1175,"t":0.95},
{"s":1.12,"t":1.02},{"s":1.1225,"t":0.97},{"s":1.125,"t":1.06},{"s":1.1275,"t":0.91},{"s":1.13,"t":1.04},{"s":1.1325,"t":0.96},{"s":1.135,"t":1.08},{"s":1.1375,"t":0.94},
{"s":1.14,"t":1.03},{"s":1.1425,"t":0.95},{"s":1.145,"t":1.05},{"s":1.1475,"t":0.97},{"s":1.15,"t":1.10},{"s":1.1525,"t":0.93},{"s":1.155,"t":1.04},{"s":1.1575,"t":0.96},
{"s":1.16,"t":1.06},{"s":1.1625,"t":0.98},{"s":1.165,"t":1.02},{"s":1.1675,"t":0.94},{"s":1.17,"t":1.11},{"s":1.1725,"t":0.92},{"s":1.175,"t":1.04},{"s":1.1775,"t":0.97},
{"s":1.18,"t":1.05},{"s":1.1825,"t":0.95},{"s":1.185,"t":1.09},{"s":1.1875,"t":0.90},{"s":1.19,"t":1.05},{"s":1.1925,"t":0.96},{"s":1.195,"t":1.03},{"s":1.1975,"t":0.94},
{"s":1.2,"t":1.07},{"s":1.2025,"t":0.98},{"s":1.205,"t":1.02},{"s":1.2075,"t":0.93},{"s":1.21,"t":1.06},{"s":1.2125,"t":0.95},{"s":1.215,"t":1.04},{"s":1.2175,"t":0.97},
{"s":1.22,"t":1.08},{"s":1.2225,"t":0.91},{"s":1.225,"t":1.03},{"s":1.2275,"t":0.96},{"s":1.23,"t":1.05},{"s":1.2325,"t":0.94},{"s":1.235,"t":1.10},{"s":1.2375,"t":0.95},
{"s":1.24,"t":1.04},{"s":1.2425,"t":0.97},{"s":1.245,"t":1.06},{"s":1.2475,"t":0.93},{"s":1.25,"t":1.14},{"s":1.2525,"t":0.87},{"s":1.255,"t":1.07},{"s":1.2575,"t":0.98},
{"s":1.26,"t":1.04},{"s":1.2625,"t":0.94},{"s":1.265,"t":1.05},{"s":1.2675,"t":0.92},{"s":1.27,"t":1.09},{"s":1.2725,"t":0.97},{"s":1.275,"t":1.05},{"s":1.2775,"t":0.95},
{"s":1.28,"t":1.03},{"s":1.2825,"t":0.90},{"s":1.285,"t":1.07},{"s":1.2875,"t":0.96},{"s":1.29,"t":1.02},{"s":1.2925,"t":0.94},{"s":1.295,"t":1.06},{"s":1.2975,"t":0.98},
{"s":1.3,"t":1.04},{"s":1.3025,"t":0.93},{"s":1.305,"t":1.08},{"s":1.3075,"t":0.95},{"s":1.31,"t":1.03},{"s":1.3125,"t":0.97},{"s":1.315,"t":1.05},{"s":1.3175,"t":0.91},
{"s":1.32,"t":1.12},{"s":1.3225,"t":0.96},{"s":1.325,"t":1.04},{"s":1.3275,"t":0.94},{"s":1.33,"t":1.06},{"s":1.3325,"t":0.95},{"s":1.335,"t":1.02},{"s":1.3375,"t":0.97},
{"s":1.34,"t":1.07},{"s":1.3425,"t":0.93},{"s":1.345,"t":1.04},{"s":1.3475,"t":0.96},{"s":1.35,"t":1.05},{"s":1.3525,"t":0.98},{"s":1.355,"t":1.09},{"s":1.3575,"t":0.94},
{"s":1.36,"t":1.05},{"s":1.3625,"t":0.92},{"s":1.365,"t":1.03},{"s":1.3675,"t":0.97},{"s":1.37,"t":1.07},{"s":1.3725,"t":0.86},{"s":1.375,"t":1.02},{"s":1.3775,"t":0.90},
{"s":1.38,"t":1.06},{"s":1.3825,"t":0.96},{"s":1.385,"t":1.04},{"s":1.3875,"t":0.94},{"s":1.39,"t":1.08},{"s":1.3925,"t":0.98},{"s":1.395,"t":1.03},{"s":1.3975,"t":0.93},
{"s":1.4,"t":1.20},{"s":1.4025,"t":0.95},{"s":1.405,"t":1.10},{"s":1.4075,"t":0.97},{"s":1.41,"t":1.04},{"s":1.4125,"t":0.91},{"s":1.415,"t":1.06},{"s":1.4175,"t":0.96},
{"s":1.42,"t":1.02},{"s":1.4225,"t":0.94},{"s":1.425,"t":1.07},{"s":1.4275,"t":0.95},{"s":1.43,"t":1.04},{"s":1.4325,"t":0.97},{"s":1.435,"t":1.05},{"s":1.4375,"t":0.93},
{"s":1.44,"t":1.09},{"s":1.4425,"t":0.96},{"s":1.445,"t":1.05},{"s":1.4475,"t":0.98},{"s":1.45,"t":1.03},{"s":1.4525,"t":0.94},{"s":1.455,"t":1.07},{"s":1.4575,"t":0.92},
{"s":1.46,"t":1.02},{"s":1.4625,"t":0.88},{"s":1.465,"t":1.06},{"s":1.4675,"t":0.95},{"s":1.47,"t":1.04},{"s":1.4725,"t":0.90},{"s":1.475,"t":1.08},{"s":1.4775,"t":0.96},
{"s":1.48,"t":1.03},{"s":1.4825,"t":0.94},{"s":1.485,"t":1.05},{"s":1.4875,"t":0.98},{"s":1.49,"t":1.10},{"s":1.4925,"t":0.93},{"s":1.495,"t":1.04},{"s":1.4975,"t":0.95},
{"s":1.5,"t":1.06},{"s":1.5025,"t":0.97},{"s":1.505,"t":1.02},{"s":1.5075,"t":0.91},{"s":1.51,"t":1.07},{"s":1.5125,"t":0.96},{"s":1.515,"t":1.04},{"s":1.5175,"t":0.94},
{"s":1.52,"t":1.13},{"s":1.5225,"t":0.95},{"s":1.525,"t":1.09},{"s":1.5275,"t":0.97},{"s":1.53,"t":1.05},{"s":1.5325,"t":0.93},{"s":1.535,"t":1.03},{"s":1.5375,"t":0.96},
{"s":1.54,"t":1.07},{"s":1.5425,"t":0.98},{"s":1.545,"t":1.02},{"s":1.5475,"t":0.94},{"s":1.55,"t":1.06},{"s":1.5525,"t":0.88},{"s":1.555,"t":1.04},{"s":1.5575,"t":0.97},
{"s":1.56,"t":1.08},{"s":1.5625,"t":0.95},{"s":1.565,"t":1.03},{"s":1.5675,"t":0.90},{"s":1.57,"t":1.05},{"s":1.5725,"t":0.96},{"s":1.575,"t":1.10},{"s":1.5775,"t":0.94},
{"s":1.58,"t":1.04},{"s":1.5825,"t":0.98},{"s":1.585,"t":1.06},{"s":1.5875,"t":0.93},{"s":1.59,"t":1.02},{"s":1.5925,"t":0.95},{"s":1.595,"t":1.07},{"s":1.5975,"t":0.97},
{"s":1.6,"t":1.04},{"s":1.6025,"t":0.91},{"s":1.605,"t":1.05},{"s":1.6075,"t":0.96},{"s":1.61,"t":1.11},{"s":1.6125,"t":0.94},{"s":1.615,"t":1.05},{"s":1.6175,"t":0.95},
{"s":1.62,"t":1.03},{"s":1.6225,"t":0.97},{"s":1.625,"t":1.07},{"s":1.6275,"t":0.93},{"s":1.63,"t":1.02},{"s":1.6325,"t":0.96},{"s":1.635,"t":1.06},{"s":1.6375,"t":0.98},
{"s":1.64,"t":1.04},{"s":1.6425,"t":0.94},{"s":1.645,"t":1.08},{"s":1.6475,"t":0.92},{"s":1.65,"t":1.03},{"s":1.6525,"t":0.97},{"s":1.655,"t":1.05},{"s":1.6575,"t":0.95},
{"s":1.66,"t":1.10},{"s":1.6625,"t":0.90},{"s":1.665,"t":1.04},{"s":1.6675,"t":0.96},{"s":1.67,"t":1.06},{"s":1.6725,"t":0.94},{"s":1.675,"t":1.02},{"s":1.6775,"t":0.98},
{"s":1.68,"t":1.12},{"s":1.6825,"t":0.93},{"s":1.685,"t":1.04},{"s":1.6875,"t":0.95},{"s":1.69,"t":1.05},{"s":1.6925,"t":0.97},{"s":1.695,"t":1.09},{"s":1.6975,"t":0.91},
{"s":1.7,"t":1.05},{"s":1.7025,"t":0.96},{"s":1.705,"t":1.03},{"s":1.7075,"t":0.94},{"s":1.71,"t":1.07},{"s":1.7125,"t":0.89},{"s":1.715,"t":1.02},{"s":1.7175,"t":0.97},
{"s":1.72,"t":1.06},{"s":1.7225,"t":0.93},{"s":1.725,"t":1.04},{"s":1.7275,"t":0.96},{"s":1.73,"t":1.08},{"s":1.7325,"t":0.98},{"s":1.735,"t":1.03},{"s":1.7375,"t":0.94},
{"s":1.74,"t":1.05},{"s":1.7425,"t":0.92},{"s":1.745,"t":1.10},{"s":1.7475,"t":0.97},{"s":1.75,"t":1.04},{"s":1.7525,"t":0.95},{"s":1.755,"t":1.06},{"s":1.7575,"t":0.90},
{"s":1.76,"t":1.02},{"s":1.7625,"t":0.96},{"s":1.765,"t":1.07},{"s":1.7675,"t":0.94},{"s":1.77,"t":1.11},{"s":1.7725,"t":0.98},{"s":1.775,"t":1.05},{"s":1.7775,"t":0.93},
{"s":1.78,"t":1.09},{"s":1.7825,"t":0.88},{"s":1.785,"t":1.05},{"s":1.7875,"t":0.97},{"s":1.79,"t":1.03},{"s":1.7925,"t":0.91},{"s":1.795,"t":1.07},{"s":1.7975,"t":0.96},
{"s":1.8,"t":1.02},{"s":1.8025,"t":0.94},{"s":1.805,"t":1.06},{"s":1.8075,"t":0.95},{"s":1.81,"t":1.04},{"s":1.8125,"t":0.97},{"s":1.815,"t":1.08},{"s":1.8175,"t":0.93},
{"s":1.82,"t":1.03},{"s":1.8225,"t":0.96},{"s":1.825,"t":1.05},{"s":1.8275,"t":0.98},{"s":1.83,"t":1.10},{"s":1.8325,"t":0.94},{"s":1.835,"t":1.04},{"s":1.8375,"t":0.92},
{"s":1.84,"t":1.06},{"s":1.8425,"t":0.97},{"s":1.845,"t":1.02},{"s":1.8475,"t":0.95},{"s":1.85,"t":1.07},{"s":1.8525,"t":0.90},{"s":1.855,"t":1.04},{"s":1.8575,"t":0.96},
{"s":1.86,"t":1.05},{"s":1.8625,"t":0.94},{"s":1.865,"t":1.09},{"s":1.8675,"t":0.98},{"s":1.87,"t":1.05},{"s":1.8725,"t":0.93},{"s":1.875,"t":1.03},{"s":1.8775,"t":0.95},
{"s":1.88,"t":1.07},{"s":1.8825,"t":0.97},{"s":1.885,"t":1.02},{"s":1.8875,"t":0.91},{"s":1.89,"t":1.06},{"s":1.8925,"t":0.96},{"s":1.895,"t":1.04},{"s":1.8975,"t":0.94},
{"s":1.9,"t":1.13},{"s":1.9025,"t":0.95},{"s":1.905,"t":1.03},{"s":1.9075,"t":0.97},{"s":1.91,"t":1.05},{"s":1.9125,"t":0.93},{"s":1.915,"t":1.10},{"s":1.9175,"t":0.96},
{"s":1.92,"t":1.04},{"s":1.9225,"t":0.98},{"s":1.925,"t":1.06},{"s":1.9275,"t":0.94},{"s":1.93,"t":1.02},{"s":1.9325,"t":0.92},{"s":1.935,"t":1.07},{"s":1.9375,"t":0.97},
{"s":1.94,"t":1.04},{"s":1.9425,"t":0.88},{"s":1.945,"t":1.05},{"s":1.9475,"t":0.90},{"s":1.95,"t":1.09},{"s":1.9525,"t":0.96},{"s":1.955,"t":1.05},{"s":1.9575,"t":0.94},
{"s":1.96,"t":1.12},{"s":1.9625,"t":0.98},{"s":1.965,"t":1.07},{"s":1.9675,"t":0.93},{"s":1.97,"t":1.02},{"s":1.9725,"t":0.95},{"s":1.975,"t":1.06},{"s":1.9775,"t":0.97},
{"s":1.98,"t":1.04},{"s":1.9825,"t":0.91},{"s":1.985,"t":1.08},{"s":1.9875,"t":0.96},{"s":1.99,"t":1.03},{"s":1.9925,"t":0.94},{"s":1.995,"t":1.05},{"s":1.9975,"t":0.95},
{"s":2,"t":1.02}
]
},
"vconcat":[
{"data":{"name":"vp"},"width":1059,"height":89,"title":{"text":"Volume","offset":-7},
 "layer":[
  {"mark":{"type":"line","color":"#d65a68","strokeWidth":1},
   "encoding":{"x":{"field":"s","type":"quantitative","scale":{"domain":[0,2],"nice":false,"zero":false},"axis":{"title":null}},
               "y":{"field":"v","type":"quantitative","scale":{"domain":[110,130],"nice":false,"zero":false},"axis":{"title":"V"}}}},
  {"mark":{"type":"line","strokeOpacity":0},
   "encoding":{"x":{"field":"s","type":"quantitative","axis":{"orient":"top","labels":false,"title":null}},
               "y":{"field":"v","type":"quantitative","axis":{"orient":"right","labels":false,"title":null}}}}
 ],
 "resolve":{"axis":{"x":"independent","y":"independent"}}},
{"data":{"name":"vp"},"width":1059,"height":89,"title":{"text":"pressure","offset":1},
 "layer":[
  {"mark":{"type":"line","color":"#1212e0","strokeWidth":1.2},
   "encoding":{"x":{"field":"s","type":"quantitative","scale":{"domain":[0,2],"nice":false,"zero":false},"axis":{"title":null}},
               "y":{"field":"p","type":"quantitative","scale":{"domain":[20,30],"nice":false,"zero":false},"axis":{"title":"P"}}}},
  {"mark":{"type":"line","strokeOpacity":0},
   "encoding":{"x":{"field":"s","type":"quantitative","axis":{"orient":"top","labels":false,"title":null}},
               "y":{"field":"p","type":"quantitative","axis":{"orient":"right","labels":false,"title":null}}}}
 ],
 "resolve":{"axis":{"x":"independent","y":"independent"}}},
{"data":{"name":"temp"},"width":1059,"height":89,"title":{"text":"temperature","offset":-6},
 "layer":[
  {"mark":{"type":"line","color":"#00f000","strokeWidth":1.6},
   "encoding":{"x":{"field":"s","type":"quantitative","scale":{"domain":[0,2],"nice":false,"zero":false},"axis":{"title":"Strain"}},
               "y":{"field":"t","type":"quantitative","scale":{"domain":[0.8,1.2],"nice":false,"zero":false},"axis":{"title":"T"}}}},
  {"mark":{"type":"line","strokeOpacity":0},
   "encoding":{"x":{"field":"s","type":"quantitative","axis":{"orient":"top","labels":false,"title":null}},
               "y":{"field":"t","type":"quantitative","axis":{"orient":"right","labels":false,"title":null}}}}
 ],
 "resolve":{"axis":{"x":"independent","y":"independent"}}}
]
}
